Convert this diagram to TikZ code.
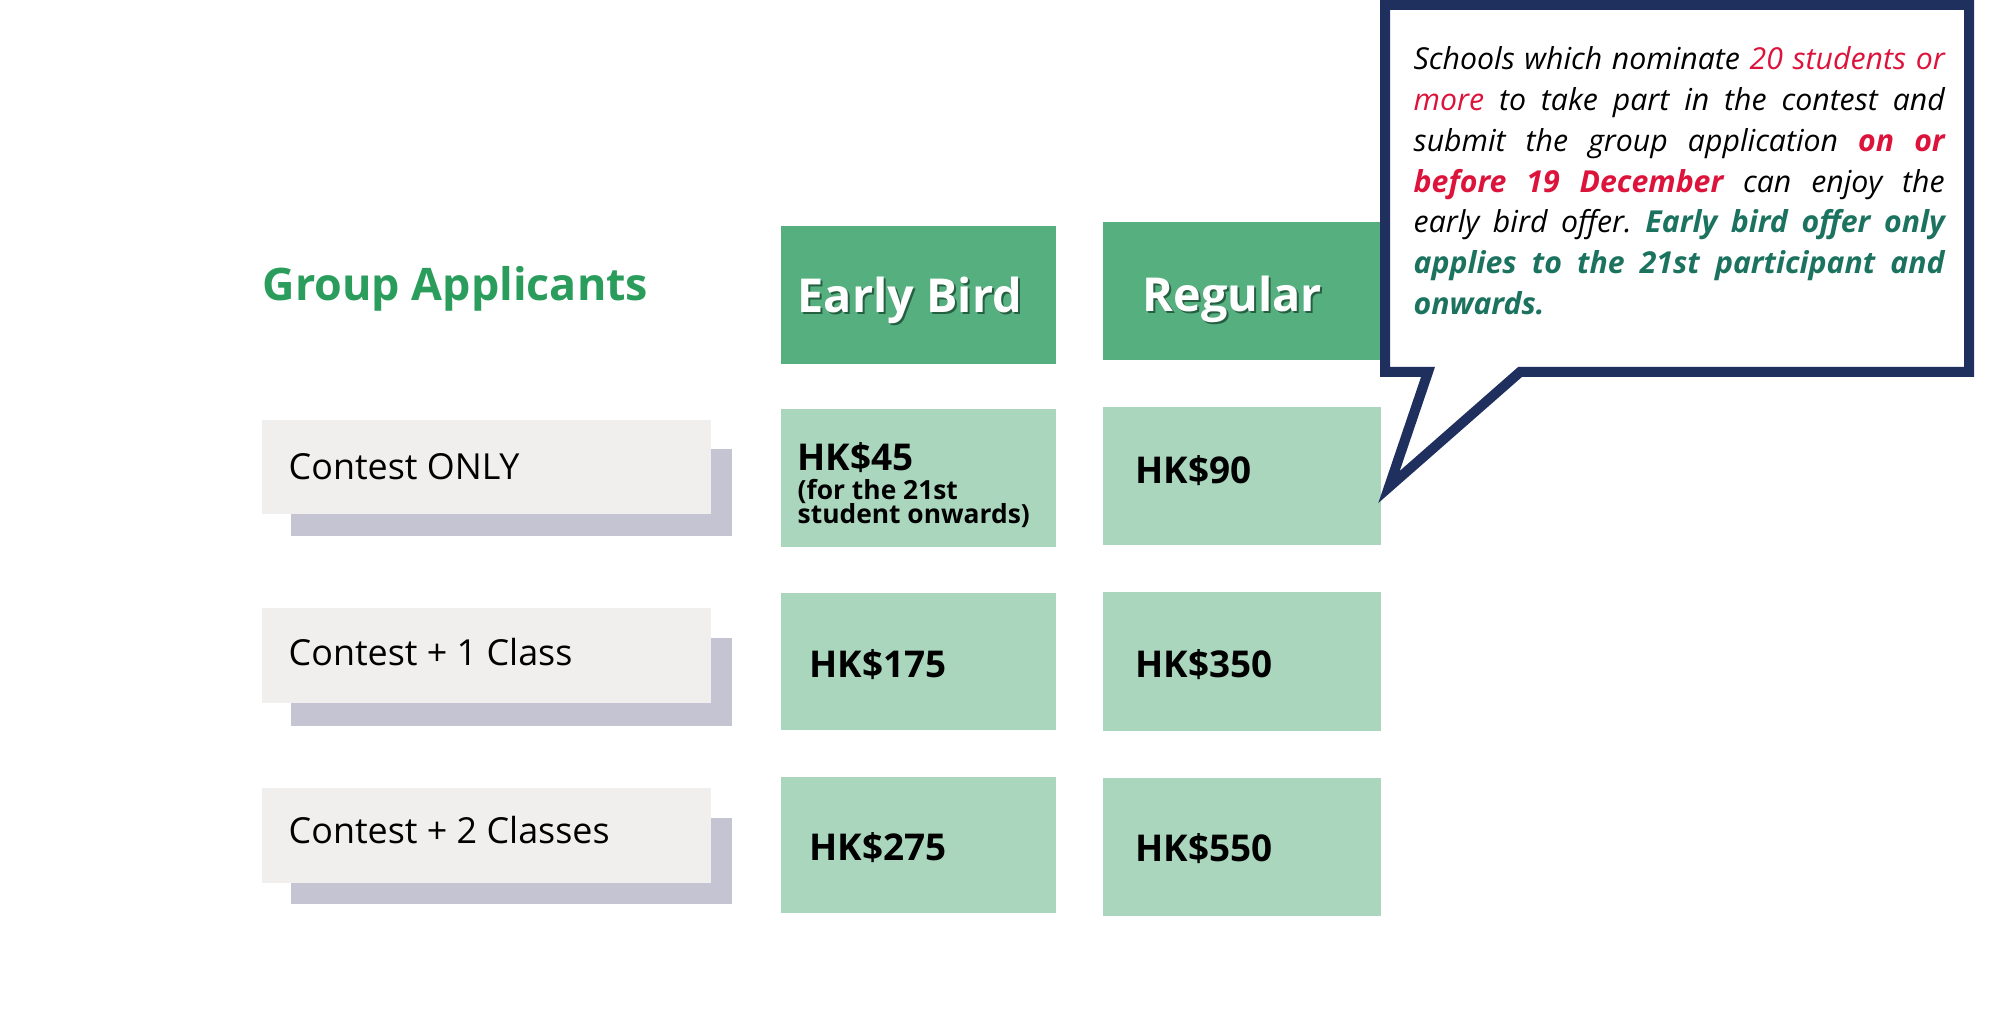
\documentclass[tikz,border=0pt]{standalone}
\usepackage{fontspec}
\setmainfont{Open Sans}
\usepackage{tikz}

\definecolor{headgreen}{RGB}{85,175,126}
\definecolor{cellgreen}{RGB}{170,214,190}
\definecolor{labelgrey}{RGB}{240,239,237}
\definecolor{shadowgrey}{RGB}{197,196,211}
\definecolor{titlegreen}{RGB}{42,157,92}
\definecolor{calloutblue}{RGB}{31,47,94}
\definecolor{offerred}{RGB}{220,20,60}
\definecolor{offerteal}{RGB}{27,115,95}
\definecolor{headshadow}{RGB}{38,96,66}

\newcommand\tightskip{\lineskiplimit=-10pt\relax}

\tikzset{
  every node/.style={inner sep=0pt, anchor=west},
  headbox/.style={fill=headgreen},
  pricebox/.style={fill=cellgreen},
  labelbox/.style={fill=labelgrey},
  labelshadow/.style={fill=shadowgrey},
  titletext/.style={text=titlegreen, font=\bfseries\fontsize{12.75}{15}\selectfont},
  headtext/.style={text=white, font=\bfseries\fontsize{13.3}{16}\selectfont},
  headshade/.style={headtext, text=headshadow},
  labeltext/.style={text=black, font=\fontsize{10.2}{12}\selectfont},
  pricetext/.style={text=black, font=\bfseries\fontsize{10.5}{12}\selectfont},
  subtext/.style={text=black, align=left,
    font=\bfseries\fontsize{7.5}{6.6}\selectfont\tightskip},
  callout/.style={draw=calloutblue, fill=white, line width=0.1cm, line join=miter},
  callouttext/.style={anchor=north west, text width=151pt, align=justify,
    font=\itshape\fontsize{8.6}{11.6}\selectfont\frenchspacing}
}

\begin{document}
\begin{tikzpicture}[x=0.01cm, y=-0.01cm]
  %%%%% START %%%%%
  \useasboundingbox (0,0) rectangle (2000,1010);

  \node[titletext] (group) at (262,289) {Group Applicants};

  % column heads
  \fill[headbox] (781,226) rectangle (1056,364);
  \fill[headbox] (1103,222) rectangle (1381,360);
  \node[headshade] (earlyshade) at (799,302) {Early Bird};
  \node[headtext] (early) at (797,300) {Early Bird};
  \node[headshade] (regularshade) at (1144,301) {Regular};
  \node[headtext] (regular) at (1142,299) {Regular};

  % row labels
  \fill[labelshadow] (291,449) rectangle (732,536);
  \fill[labelbox] (262,420) rectangle (711,514);
  \node[labeltext] (only) at (288,467) {Contest ONLY};

  \fill[labelshadow] (291,638) rectangle (732,726);
  \fill[labelbox] (262,608) rectangle (711,703);
  \node[labeltext] (oneclass) at (288,652) {Contest + 1 Class};

  \fill[labelshadow] (291,818) rectangle (732,904);
  \fill[labelbox] (262,788) rectangle (711,883);
  \node[labeltext] (twoclass) at (288,830) {Contest + 2 Classes};

  % prices
  \fill[pricebox] (781,409) rectangle (1056,547);
  \fill[pricebox] (1103,407) rectangle (1381,545);
  \node[pricetext] (early1) at (797,458) {HK\$45};
  \node[subtext, anchor=north west] (early1note) at (797,479) {(for the 21st\\student onwards)};
  \node[pricetext] (regular1) at (1135,471) {HK\$90};

  \fill[pricebox] (781,593) rectangle (1056,730);
  \fill[pricebox] (1103,592) rectangle (1381,731);
  \node[pricetext] (early2) at (809,665) {HK\$175};
  \node[pricetext] (regular2) at (1135,665) {HK\$350};

  \fill[pricebox] (781,777) rectangle (1056,913);
  \fill[pricebox] (1103,778) rectangle (1381,916);
  \node[pricetext] (early3) at (809,848) {HK\$275};
  \node[pricetext] (regular3) at (1135,849) {HK\$550};

  % speech bubble
  \draw[callout] (1385,5) -- (1969,5) -- (1969,372) -- (1520,372)
    -- (1389,487) -- (1428,372) -- (1385,372) -- cycle;
  \node[callouttext] (offer) at (1413,46) {Schools which nominate
    {\color{offerred}20 students or\linebreak more} to take part in the contest and\linebreak
    submit the group application {\color{offerred}\bfseries on or\linebreak
    before 19 December} can enjoy the\linebreak
    early bird offer. {\color{offerteal}\bfseries Early bird offer only\linebreak
    applies to the 21st participant and\linebreak onwards.}};

  %%%%% END %%%%%
\end{tikzpicture}
\end{document}
